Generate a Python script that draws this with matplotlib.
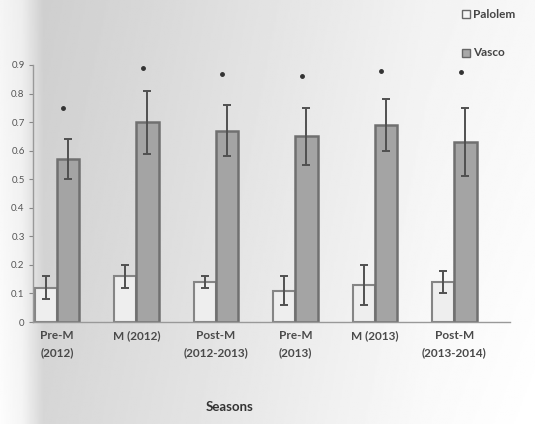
import numpy as np
import matplotlib
matplotlib.use("Agg")
import matplotlib.pyplot as plt
from matplotlib.patches import Rectangle

plt.rcParams['font.family'] = ['Lato', 'DejaVu Sans']

# Data
seasons = ["Pre-M\n(2012)", "M (2012)", "Post-M\n(2012-2013)",
           "Pre-M\n(2013)", "M (2013)", "Post-M\n(2013-2014)"]
palolem = [0.12, 0.16, 0.14, 0.11, 0.13, 0.14]
palolem_err = [0.04, 0.04, 0.02, 0.05, 0.07, 0.04]
vasco = [0.57, 0.70, 0.67, 0.65, 0.69, 0.63]
vasco_err = [0.07, 0.11, 0.09, 0.10, 0.09, 0.12]
sig_marks = [0.75, 0.89, 0.87, 0.86, 0.88, 0.875]
yticks = [0, 0.1, 0.2, 0.3, 0.4, 0.5, 0.6, 0.7, 0.8, 0.9]
ytick_labels = ["0", "0.1", "0.2", "0.3", "0.4", "0.5", "0.6", "0.7", "0.8", "0.9"]

W, H = 535, 424
fig = plt.figure(figsize=(W / 100, H / 100), dpi=100)

# Paper-toned backdrop: grey shading fading out to the right
bg = fig.add_axes([0, 0, 1, 1], zorder=-10)
xs = np.linspace(0, 1, 300)
knots_x = [0.0, 0.04, 0.08, 0.3, 0.55, 0.8, 1.0]
knots_v = [0.96, 0.93, 0.81, 0.85, 0.90, 0.95, 0.97]
row = np.interp(xs, knots_x, knots_v)
ys = np.linspace(0, 1, 200)[:, None]
shade = np.clip(row[None, :] + 0.03 * ys, 0, 1)
bg.imshow(shade, cmap='gray', vmin=0, vmax=1, aspect='auto',
          extent=[0, 1, 0, 1], origin='upper')
bg.set_axis_off()

ax = fig.add_axes([33 / W, 1 - 322 / H, 477 / W, 257 / H])
ax.patch.set_alpha(0)

x = np.arange(len(seasons))
w = 0.28
ecol = '#505050'
ax.bar(x - w / 2, palolem, w, color='#eeeeee', edgecolor='#858585', linewidth=1.5,
       yerr=palolem_err, error_kw=dict(ecolor=ecol, elinewidth=1.4, capsize=3, capthick=1.4),
       label='Palolem')
ax.bar(x + w / 2, vasco, w, color='#a4a4a4', edgecolor='#707070', linewidth=1.8,
       yerr=vasco_err, error_kw=dict(ecolor=ecol, elinewidth=1.4, capsize=3, capthick=1.4),
       label='Vasco')
ax.plot(x + w / 2 - 0.06, sig_marks, linestyle='none', marker='o', ms=2.5,
        color='#333333')

ax.set_xlim(-0.3, 5.7)
ax.set_ylim(0, 0.9)
ax.set_yticks(yticks)
ax.set_yticklabels(ytick_labels, fontsize=7, color='#555555')
ax.set_xticks(x)
ax.set_xticklabels(seasons, fontsize=8.5, color='#4a4a4a', fontweight='bold',
                   linespacing=1.6)
ax.tick_params(axis='x', length=0, pad=6)
ax.tick_params(axis='y', length=3, width=0.8, color='#888888', pad=3)
for s in ['top', 'right']:
    ax.spines[s].set_visible(False)
for s in ['left', 'bottom']:
    ax.spines[s].set_color('#999999')
    ax.spines[s].set_linewidth(1.0)

fig.text(230 / W, 1 - 407 / H, 'Seasons', fontsize=9.5, fontweight='bold',
         color='#333333', ha='center', va='center')

# Legend entries placed at the upper right
fig.patches.append(Rectangle((462 / W, 1 - 18 / H), 8 / W, 8 / H, transform=fig.transFigure,
                             facecolor='#f4f4f4', edgecolor='#666666', linewidth=1.0))
fig.text(473 / W, 1 - 14 / H, 'Palolem', fontsize=8.5, color='#444444',
         fontweight='bold', va='center', ha='left')
fig.patches.append(Rectangle((462 / W, 1 - 57 / H), 8 / W, 8 / H, transform=fig.transFigure,
                             facecolor='#a8a8a8', edgecolor='#666666', linewidth=1.0))
fig.text(473 / W, 1 - 53 / H, 'Vasco', fontsize=8.5, color='#444444',
         fontweight='bold', va='center', ha='left')

fig.savefig('out.png', dpi=100)
